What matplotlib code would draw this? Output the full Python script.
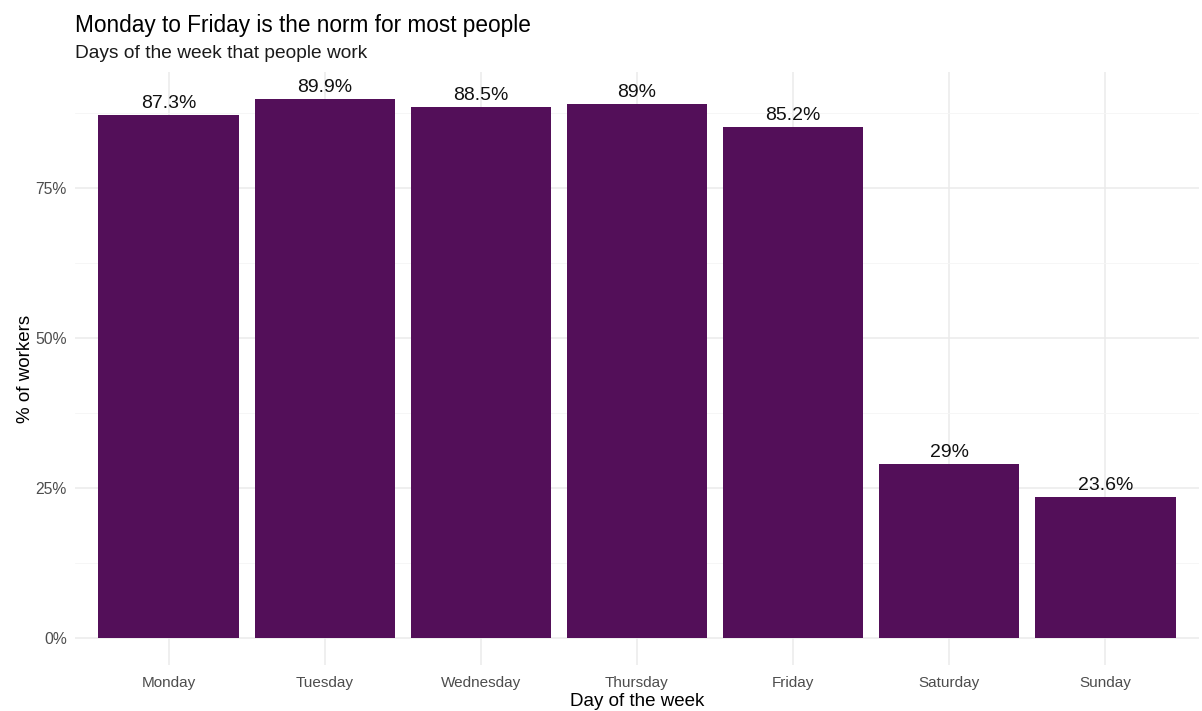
import matplotlib
matplotlib.use('Agg')
import matplotlib.pyplot as plt
from matplotlib.ticker import MultipleLocator, FuncFormatter

plt.rcParams['font.family'] = ['Liberation Sans', 'DejaVu Sans']

# 数据
days = ['Monday', 'Tuesday', 'Wednesday', 'Thursday', 'Friday', 'Saturday', 'Sunday']
pct_workers = [87.3, 89.9, 88.5, 89.0, 85.2, 29.0, 23.6]
value_labels = ['87.3%', '89.9%', '88.5%', '89%', '85.2%', '29%', '23.6%']

bar_color = '#530F59'
grid_major = '#EBEBEB'
grid_minor = '#F5F5F5'

fig = plt.figure(figsize=(12.02, 7.11), dpi=100)
ax = fig.add_axes([0.0624, 0.0647, 0.9351, 0.834])

x = list(range(1, len(days) + 1))
bars = ax.bar(x, pct_workers, width=0.9, color=bar_color, zorder=3)

# 柱顶标签
for xi, v, lab in zip(x, pct_workers, value_labels):
    ax.annotate(lab, (xi, v), xytext=(0, 5), textcoords='offset points',
                ha='center', va='baseline', fontsize=14, color='#111111', zorder=4)

ymax = max(pct_workers)
ax.set_xlim(0.4, len(days) + 0.6)
ax.set_ylim(-0.05 * ymax, ymax * 1.05)

ax.set_xticks(x)
ax.set_xticklabels(days)
ax.yaxis.set_major_locator(MultipleLocator(25))
ax.yaxis.set_minor_locator(MultipleLocator(12.5))
ax.yaxis.set_major_formatter(FuncFormatter(lambda v, p: f'{v:.0f}%'))

ax.grid(True, which='major', color=grid_major, linewidth=1.1, zorder=0)
ax.grid(True, which='minor', axis='y', color=grid_minor, linewidth=0.6, zorder=0)
ax.set_axisbelow(True)
for s in ax.spines.values():
    s.set_visible(False)
ax.tick_params(which='both', length=0)
ax.tick_params(axis='x', labelsize=11, labelcolor='#4D4D4D', pad=8)
ax.tick_params(axis='y', labelsize=11.3, labelcolor='#4D4D4D', pad=6)

ax.set_xlabel('Day of the week', fontsize=13.5, color='black', labelpad=2)
ax.set_ylabel('% of workers', fontsize=13.5, color='black', labelpad=1)

fig.text(0.0624, 0.955, 'Monday to Friday is the norm for most people',
         fontsize=16.3, color='black', va='baseline', ha='left')
fig.text(0.0624, 0.918, 'Days of the week that people work',
         fontsize=13.8, color='#1A1A1A', va='baseline', ha='left')

fig.savefig('out.png', dpi=100)
plt.close(fig)
